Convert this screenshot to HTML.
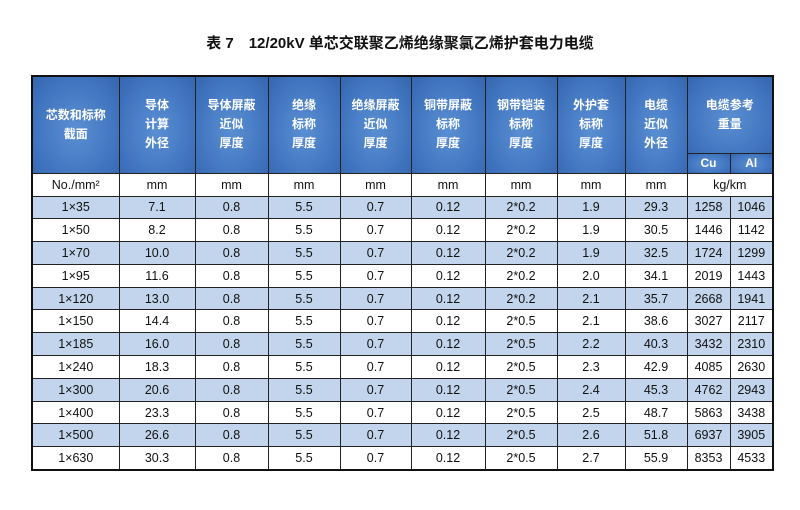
<!DOCTYPE html>
<html><head><meta charset="utf-8"><style>
body{margin:0;width:800px;height:510px;background:#fff;position:relative;overflow:hidden;font-family:"Liberation Sans","Noto Sans CJK SC",sans-serif;}
#title{position:absolute;left:0;width:800px;top:32px;text-align:center;font-size:15px;color:#111;font-weight:bold;}
table{position:absolute;left:31px;top:75px;border-collapse:collapse;table-layout:fixed;border:2.5px solid #111;}
td{border:1.5px solid #222;text-align:center;font-size:12.5px;color:#111;padding:0;}
td.h{background:radial-gradient(ellipse at 50% 55%,#5b8fd3 0%,#3f73bd 70%,#3566ae 100%);color:#fff;font-size:12px;line-height:19px;font-weight:bold;}
tr.d td{height:21.8px;}
tr.b td{background:#c3d5ec;}
tr.u td{height:22px;}
</style></head><body>
<div id="title">表 7　12/20kV 单芯交联聚乙烯绝缘聚氯乙烯护套电力电缆</div>
<table>
<colgroup><col style="width:87px"><col style="width:76px"><col style="width:73px"><col style="width:72px"><col style="width:71px"><col style="width:74px"><col style="width:72px"><col style="width:68px"><col style="width:62px"><col style="width:43px"><col style="width:43px"></colgroup>
<tr style="height:77px">
<td class="h" rowspan="2">芯数和标称<br>截面</td>
<td class="h" rowspan="2">导体<br>计算<br>外径</td>
<td class="h" rowspan="2">导体屏蔽<br>近似<br>厚度</td>
<td class="h" rowspan="2">绝缘<br>标称<br>厚度</td>
<td class="h" rowspan="2">绝缘屏蔽<br>近似<br>厚度</td>
<td class="h" rowspan="2">铜带屏蔽<br>标称<br>厚度</td>
<td class="h" rowspan="2">钢带铠装<br>标称<br>厚度</td>
<td class="h" rowspan="2">外护套<br>标称<br>厚度</td>
<td class="h" rowspan="2">电缆<br>近似<br>外径</td>
<td class="h" colspan="2">电缆参考<br>重量</td>
</tr>
<tr style="height:20px"><td class="h">Cu</td><td class="h">Al</td></tr>
<tr class="u"><td>No./mm²</td><td>mm</td><td>mm</td><td>mm</td><td>mm</td><td>mm</td><td>mm</td><td>mm</td><td>mm</td><td colspan="2">kg/km</td></tr>
<tbody id="body"></tbody>
</table>
<script>
const sizes=["1×35","1×50","1×70","1×95","1×120","1×150","1×185","1×240","1×300","1×400","1×500","1×630"];
const condDia=["7.1","8.2","10.0","11.6","13.0","14.4","16.0","18.3","20.6","23.3","26.6","30.3"];
const steel=["2*0.2","2*0.2","2*0.2","2*0.2","2*0.2","2*0.5","2*0.5","2*0.5","2*0.5","2*0.5","2*0.5","2*0.5"];
const sheath=["1.9","1.9","1.9","2.0","2.1","2.1","2.2","2.3","2.4","2.5","2.6","2.7"];
const cableDia=["29.3","30.5","32.5","34.1","35.7","38.6","40.3","42.9","45.3","48.7","51.8","55.9"];
const cu=["1258","1446","1724","2019","2668","3027","3432","4085","4762","5863","6937","8353"];
const al=["1046","1142","1299","1443","1941","2117","2310","2630","2943","3438","3905","4533"];
const tb=document.getElementById('body');
sizes.forEach((s,i)=>{
  const tr=document.createElement('tr');
  tr.className='d'+(i%2===0?' b':'');
  
  
  [s,condDia[i],"0.8","5.5","0.7","0.12",steel[i],sheath[i],cableDia[i],cu[i],al[i]].forEach(v=>{
    const td=document.createElement('td');td.textContent=v;
    
    
    tr.appendChild(td);
  });
  tb.appendChild(tr);
});
</script>
</body></html>
